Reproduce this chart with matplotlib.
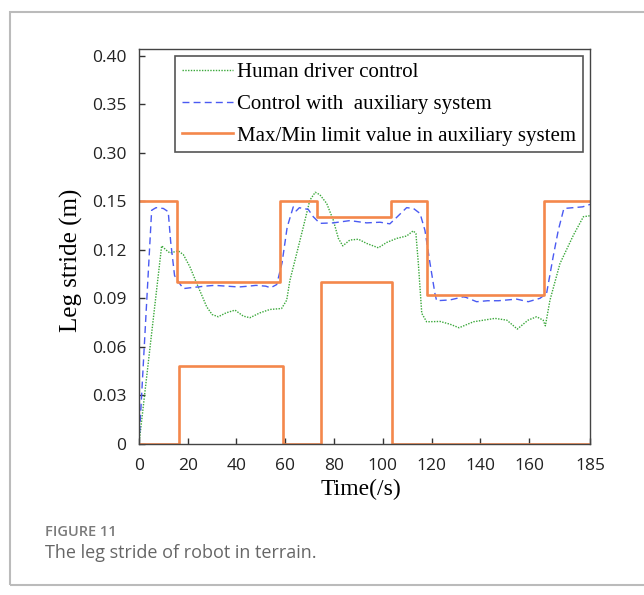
import matplotlib.pyplot as plt
from matplotlib.patches import Rectangle

# time (s) / leg stride (m)
human_t = [0, 9.3, 11, 12.7, 16.1, 18.2, 20.9, 23.7, 27.8, 30, 32.5, 35.7, 39.4, 42.8,
           45.5, 49.6, 53.7, 58.5, 60.6, 61.9, 64.7, 67.4, 70.1, 72.3, 74.2, 77, 79.7,
           81.8, 83.6, 86.5, 90, 93.4, 98.2, 101.6, 105.7, 109.8, 112.5, 113.6, 114.6,
           116, 118, 123.5, 127.6, 131.3, 137.2, 146, 150.9, 155.2, 159.6, 163.1, 165.8,
           166.7, 168.6, 172.7, 178.2, 182.3, 185]
human_v = [0, 0.1224, 0.120, 0.118, 0.1193, 0.117, 0.1094, 0.0992, 0.0847, 0.080, 0.0786,
           0.081, 0.0827, 0.079, 0.078, 0.081, 0.0831, 0.0837, 0.0889, 0.101, 0.1177, 0.134,
           0.1506, 0.1555, 0.154, 0.1486, 0.1383, 0.127, 0.1224, 0.126, 0.1265, 0.1239,
           0.1212, 0.1245, 0.127, 0.1285, 0.1317, 0.130, 0.1115, 0.0807, 0.0755, 0.0757,
           0.074, 0.0718, 0.0755, 0.0776, 0.0765, 0.071, 0.0765, 0.0786, 0.0765, 0.073,
           0.0889, 0.1115, 0.129, 0.1404, 0.141]

aux_t = [0, 5.2, 7, 10, 12, 13, 14.6, 16.5, 18.2, 21, 24, 27, 31, 36, 41, 45, 48, 52, 54,
         56.5, 58.7, 60.8, 63.3, 64.5, 65.8, 67, 69.4, 71.5, 74.2, 79.7, 86.5, 93.4, 98.9,
         102.9, 105.7, 109.8, 112.6, 115.3, 117.3, 119.4, 121.4, 122.1, 127.6, 133, 134.1,
         138.5, 143, 147.5, 154.9, 159.7, 164.5, 167.2, 169.9, 172, 174.3, 178.2, 182, 185]
aux_v = [0, 0.1444, 0.146, 0.1455, 0.1435, 0.125, 0.104, 0.0995, 0.096, 0.0965, 0.097,
         0.0975, 0.098, 0.0975, 0.097, 0.0975, 0.098, 0.0975, 0.0965, 0.0985, 0.112, 0.134,
         0.1465, 0.144, 0.146, 0.1455, 0.145, 0.1404, 0.1363, 0.1366, 0.138, 0.1366, 0.137,
         0.136, 0.140, 0.146, 0.1455, 0.1424, 0.132, 0.1115, 0.093, 0.0885, 0.089, 0.0909,
         0.0906, 0.0879, 0.0885, 0.0885, 0.0895, 0.0879, 0.090, 0.093, 0.1157, 0.132,
         0.1455, 0.146, 0.1465, 0.148]

max_t = [0, 15.5, 58, 73, 103.2, 118.2, 166.2, 185]
max_v = [0.15, 0.10, 0.15, 0.14, 0.15, 0.092, 0.15, 0.15]
min_t = [0, 16.3, 59, 74.6, 103.6, 185]
min_v = [0, 0.048, 0, 0.10, 0, 0]

xticks = [0, 20, 40, 60, 80, 100, 120, 140, 160, 185]
yticks = [0, 0.03, 0.06, 0.09, 0.12, 0.15, 0.18, 0.21, 0.24]
ytick_labels = ['0', '0.03', '0.06', '0.09', '0.12', '0.15', '0.30', '0.35', '0.40']

fig = plt.figure(figsize=(6.44, 5.95), dpi=100)
ax = fig.add_axes([0.2158, 0.2538, 0.7003, 0.6638])

ax.plot(human_t, human_v, color='#3aa83a', lw=1.0, linestyle=(0, (1, 1)),
        label='Human driver control')
ax.plot(aux_t, aux_v, color='#4a5af2', lw=1.0, linestyle=(0, (5, 3)),
        label='Control with  auxiliary system')
ax.step(max_t, max_v, where='post', color='#f4874b', lw=1.9,
        label='Max/Min limit value in auxiliary system')
ax.step(min_t, min_v, where='post', color='#f4874b', lw=1.9)

ax.set_xlim(0, 185)
ax.set_ylim(0, 0.244)
ax.set_xticks(xticks)
ax.set_xticklabels([str(t) for t in xticks])
ax.set_yticks(yticks)
ax.set_yticklabels(ytick_labels)
ax.tick_params(direction='in', length=4, width=1, color='#333333')
ax.tick_params(axis='y', pad=9, labelsize=12.5, labelcolor='#222222')
ax.tick_params(axis='x', pad=10, labelsize=12.5, labelcolor='#222222')
for lab in ax.get_xticklabels() + ax.get_yticklabels():
    lab.set_family('Open Sans')
for sp in ax.spines.values():
    sp.set_color('#444444')
    sp.set_linewidth(1.0)

ax.set_ylabel('Leg stride (m)', family='Liberation Serif', fontsize=18)
ax.yaxis.set_label_coords(-0.125, 0.466)
ax.set_xlabel('Time(/s)', family='Liberation Serif', fontsize=17)
ax.xaxis.set_label_coords(0.492, -0.089)

leg = ax.legend(loc='upper right', bbox_to_anchor=(0.985, 0.983), borderaxespad=0,
                prop={'family': 'Liberation Serif', 'size': 15}, fancybox=False,
                handlelength=2.45, handletextpad=0.2, labelspacing=0.58,
                borderpad=0.33, framealpha=1)
leg.get_frame().set_edgecolor('#555555')
leg.get_frame().set_linewidth(1.2)

# outer frame of the figure panel
fig.patches.append(Rectangle((10 / 644, 10 / 595), 1.0, 573 / 595, transform=fig.transFigure,
                             fill=False, edgecolor='#bbbbbb', lw=1.5))

fig.text(45 / 644, 1 - 532 / 595, 'FIGURE 11', family='Open Sans', fontsize=10.5,
         weight='semibold', color='#7a7a7a', va='center', ha='left')
fig.text(45 / 644, 1 - 553 / 595, 'The leg stride of robot in terrain.', family='Open Sans',
         fontsize=13, color='#666666', va='center', ha='left')

fig.savefig('out.png', dpi=100)
